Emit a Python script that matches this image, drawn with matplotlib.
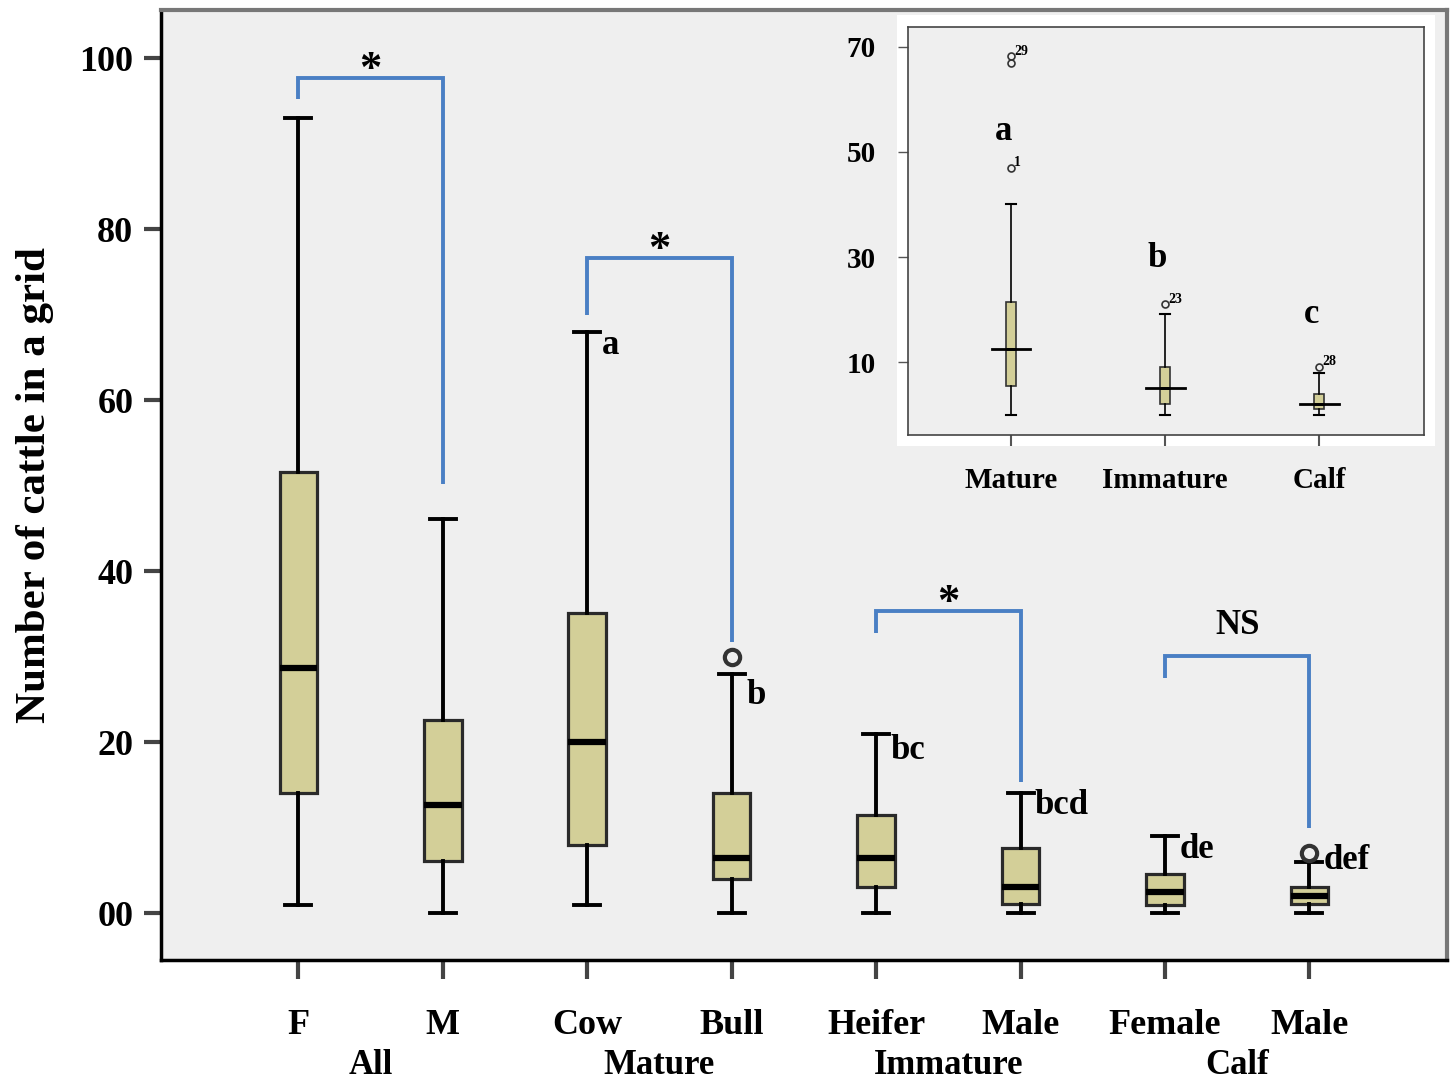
import matplotlib
matplotlib.use('Agg')
import matplotlib.pyplot as plt
from matplotlib.patches import Rectangle
import matplotlib.transforms as mtransforms

plt.rcParams['font.family'] = ['Liberation Serif', 'DejaVu Serif']
plt.rcParams['font.weight'] = 'bold'

# ---- main panel data ----
labels = ['F', 'M', 'Cow', 'Bull', 'Heifer', 'Male', 'Female', 'Male']
groups = ['All', 'Mature', 'Immature', 'Calf']
whislo = [1.0, 0.0, 1.0, 0.0, 0.0, 0.0, 0.0, 0.0]
q1 = [14.0, 6.1, 8.0, 4.0, 3.0, 1.1, 1.0, 1.1]
med = [28.7, 12.6, 20.0, 6.5, 6.5, 3.0, 2.5, 2.0]
q3 = [51.6, 22.6, 35.1, 14.0, 11.5, 7.6, 4.6, 3.0]
whishi = [93.0, 46.1, 68.0, 28.0, 21.0, 14.0, 9.0, 6.0]
fliers = [[], [], [], [30.0], [], [], [], [7.0]]
letters = ['', '', 'a', 'b', 'bc', 'bcd', 'de', 'def']
letter_y = [0, 0, 66.4, 25.5, 19.0, 12.6, 7.4, 6.2]

# brackets: (left box, right box, top, left leg end, right leg end, label)
brackets = [(1, 2, 97.7, 95.2, 50.2, '*'),
            (3, 4, 76.6, 70.0, 31.7, '*'),
            (5, 6, 35.3, 32.7, 15.3, '*'),
            (7, 8, 30.1, 27.5, 10.0, 'NS')]

# ---- inset data ----
in_labels = ['Mature', 'Immature', 'Calf']
in_whislo = [0.0, 0.0, 0.0]
in_q1 = [5.5, 2.0, 1.05]
in_med = [12.5, 5.05, 2.05]
in_q3 = [21.5, 9.05, 4.0]
in_whishi = [40.0, 19.1, 8.0]
in_fliers = [[47.0, 67.0, 68.2], [21.0], [9.05]]
in_flier_ids = [[('1', 47.0), ('29', 68.2)], [('23', 21.0)], [('28', 9.05)]]
in_letters = ['a', 'b', 'c']
in_letter_y = [53.9, 29.8, 19.0]

box_color = '#d3cf98'
bg = '#efefef'
blue = '#4a7fc4'

fig = plt.figure(figsize=(14.51, 10.8), dpi=100)
ax = fig.add_axes([0.111, 0.111, 0.886, 0.8796])
ax.set_facecolor(bg)

stats = []
for i in range(len(labels)):
    stats.append(dict(med=med[i], q1=q1[i], q3=q3[i], whislo=whislo[i],
                      whishi=whishi[i], fliers=fliers[i], label=labels[i]))
pos = list(range(1, len(labels) + 1))
ax.bxp(stats, positions=pos, widths=0.26, patch_artist=True,
       boxprops=dict(facecolor=box_color, edgecolor='#2a2a2a', linewidth=2.3),
       medianprops=dict(color='black', linewidth=4.5),
       whiskerprops=dict(color='black', linewidth=2.8),
       capprops=dict(color='black', linewidth=2.8),
       capwidths=0.18,
       flierprops=dict(marker='o', markersize=11, markerfacecolor='none',
                       markeredgecolor='#333333', markeredgewidth=3))

for i, t in enumerate(letters):
    if t:
        ax.text(pos[i] + 0.1, letter_y[i], t, fontsize=25, fontweight='bold',
                ha='left', va='center')

for a, b, top, ly, ry, lab in brackets:
    ax.plot([a, a, b, b], [ly, top, top, ry], color=blue, lw=2.8,
            solid_capstyle='butt', solid_joinstyle='miter')
    if lab == '*':
        ax.text((a + b) / 2, top - 1.4, lab, fontsize=32, fontweight='bold',
                ha='center', va='bottom')
    else:
        ax.text((a + b) / 2, top + 1.6, lab, fontsize=25, fontweight='bold',
                ha='center', va='bottom')

ax.set_xlim(0.05, 8.95)
ax.set_ylim(-5.5, 105.6)
ax.set_yticks([0, 20, 40, 60, 80, 100])
ax.set_yticklabels(['00', '20', '40', '60', '80', '100'])
ax.set_xticks(pos)
ax.set_xticklabels(labels)
ax.tick_params(axis='y', length=12, width=3, color='#444444', labelsize=26, pad=8)
ax.tick_params(axis='x', length=14, width=3, color='#444444', labelsize=26, pad=21)
for lb in ax.get_xticklabels() + ax.get_yticklabels():
    lb.set_fontweight('bold')
ax.set_ylabel('Number of cattle in a grid', fontsize=31, fontweight='bold', labelpad=18)

ax.spines['left'].set_color('black')
ax.spines['bottom'].set_color('black')
ax.spines['left'].set_linewidth(2.5)
ax.spines['bottom'].set_linewidth(2.5)
ax.spines['top'].set_color('#777777')
ax.spines['right'].set_color('#777777')
ax.spines['top'].set_linewidth(3)
ax.spines['right'].set_linewidth(3)

trans = mtransforms.blended_transform_factory(ax.transData, ax.transAxes)
for k, g in enumerate(groups):
    ax.text(2 * k + 1.5, -0.1105, g, transform=trans, fontsize=25,
            fontweight='bold', ha='center', va='center')

# white backing for the inset
ax.add_patch(Rectangle((0.6182, 0.587), 0.3708, 0.399, transform=fig.transFigure,
                       facecolor='white', edgecolor='none', zorder=5))

# ---- inset ----
ins = fig.add_axes([0.6258, 0.5972, 0.3556, 0.3778])
ins.set_facecolor(bg)
in_stats = []
for i in range(len(in_labels)):
    in_stats.append(dict(med=in_med[i], q1=in_q1[i], q3=in_q3[i], whislo=in_whislo[i],
                         whishi=in_whishi[i], fliers=in_fliers[i], label=in_labels[i]))
ipos = [1, 2, 3]
ins.bxp(in_stats, positions=ipos, widths=0.065, patch_artist=True,
        boxprops=dict(facecolor=box_color, edgecolor='#333333', linewidth=1.2),
        medianprops=dict(color='black', linewidth=2),
        whiskerprops=dict(color='black', linewidth=1.2),
        capprops=dict(color='black', linewidth=1.5),
        capwidths=0.065,
        flierprops=dict(marker='o', markersize=5, markerfacecolor='none',
                        markeredgecolor='#333333', markeredgewidth=1.2))
# widen medians as in the picture
for i, m in enumerate(in_med):
    ins.plot([ipos[i] - 0.125, ipos[i] + 0.125], [m, m], color='black', lw=2)

for i, ids in enumerate(in_flier_ids):
    for txt, yv in ids:
        ins.text(ipos[i] + 0.02, yv + 1.0, txt, fontsize=10, fontweight='bold',
                 ha='left', va='center')
for i, t in enumerate(in_letters):
    ins.text(ipos[i] - 0.05, in_letter_y[i], t, fontsize=25, fontweight='bold',
             ha='center', va='center')

ins.set_xlim(0.33, 3.68)
ins.set_ylim(-3.9, 73.8)
ins.set_yticks([10, 30, 50, 70])
ins.set_xticks(ipos)
ins.set_xticklabels(in_labels)
ins.tick_params(axis='y', length=7, width=1, color='#555555', labelsize=21, pad=16)
ins.tick_params(axis='x', length=8, width=1.5, color='#555555', labelsize=21, pad=15)
for lb in ins.get_xticklabels() + ins.get_yticklabels():
    lb.set_fontweight('bold')
for s in ins.spines.values():
    s.set_color('#444444')
    s.set_linewidth(1.2)

fig.savefig('out.png', dpi=100, facecolor='white')
